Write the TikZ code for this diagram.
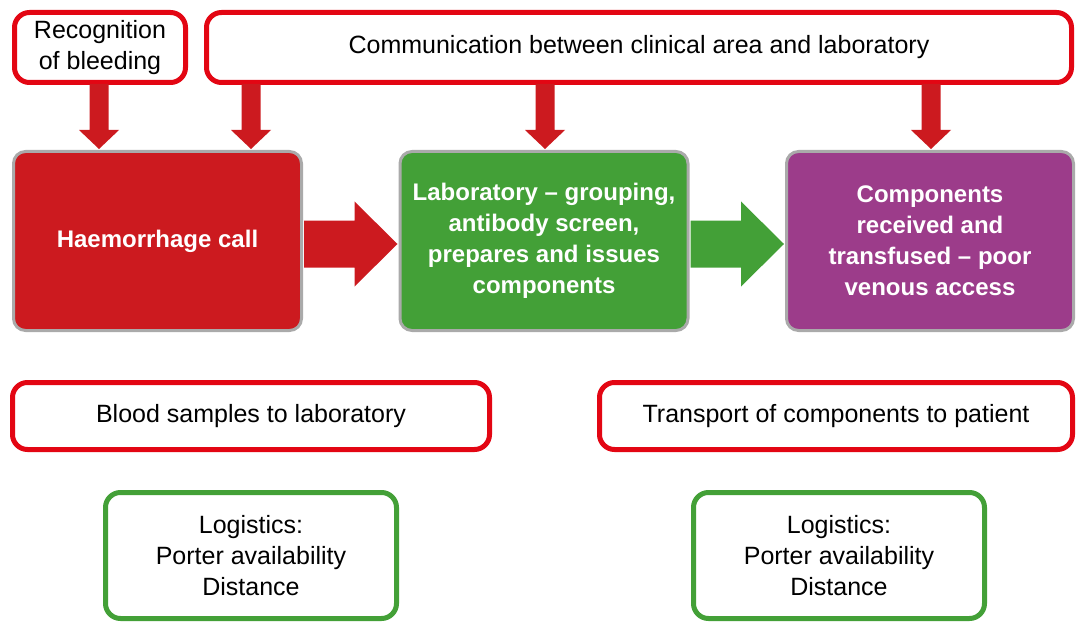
\documentclass[tikz,border=0pt]{standalone}
\usepackage{fontspec}
\setmainfont{Liberation Sans}
\usetikzlibrary{calc}
\definecolor{fillred}{HTML}{CC1A1F}
\definecolor{linered}{HTML}{E30613}
\definecolor{fillgreen}{HTML}{43A037}
\definecolor{fillpurple}{HTML}{9C3C8A}
\definecolor{boxgray}{HTML}{AAAAAA}
% vertical arrow: colour, from node, to node, x position (pt)
\newcommand\vArr[4]{%
  \fill[#1] let \p1=(#2.south), \p2=(#3.north) in
    ({#4pt-9.5pt},{\y1+1pt}) -- ({#4pt+9.5pt},{\y1+1pt}) -- ({#4pt+9.5pt},{\y2+20pt})
    -- ({#4pt+20pt},{\y2+20pt}) -- (#4pt,{\y2+1pt}) -- ({#4pt-20pt},{\y2+20pt})
    -- ({#4pt-9.5pt},{\y2+20pt}) -- cycle;}
% horizontal arrow: colour, from node, to node
\newcommand\hArr[3]{%
  \fill[#1] let \p1=(#2.east), \p2=(#3.west) in
    ({\x1+1pt},{\y1-3pt+23.5pt}) -- ({\x2-44pt},{\y1-3pt+23.5pt}) -- ({\x2-44pt},{\y1-3pt+42.5pt})
    -- ({\x2-1pt},{\y1-3pt}) -- ({\x2-44pt},{\y1-3pt-42.5pt}) -- ({\x2-44pt},{\y1-3pt-23.5pt})
    -- ({\x1+1pt},{\y1-3pt-23.5pt}) -- cycle;}
\begin{document}
\begin{tikzpicture}[x=1pt,y=-1pt,
  outlbox/.style={draw=#1, line width=5pt, rounded corners=15pt, fill=white,
    align=center, font=\fontsize{25}{31}\selectfont, inner sep=0pt},
  fillbox/.style={fill=#1, draw=boxgray, line width=3pt, rounded corners=12pt,
    text=white, align=center, font=\fontsize{24}{31}\selectfont\bfseries,
    minimum width=288pt, minimum height=179pt, inner sep=0pt}]
\useasboundingbox (0,0) rectangle (1077,623);

\node[outlbox=linered, minimum width=171pt, minimum height=70pt] (rec) at (100,47.5) {Recognition\\of bleeding};
\node[outlbox=linered, minimum width=865pt, minimum height=70pt] (comm) at (639,47.5) {Communication between clinical area and laboratory};

\node[fillbox=fillred] (haem) at (157.5,241) {Haemorrhage call};
\node[fillbox=fillgreen] (lab) at (544,241) {Laboratory -- grouping,\\antibody screen,\\prepares and issues\\components};
\node[fillbox=fillpurple, minimum width=287pt] (comp) at (930,241) {Components\\received and\\transfused -- poor\\venous access};

\node[outlbox=linered, minimum width=477pt, minimum height=67pt] (blood) at (251,416) {Blood samples to laboratory};
\node[outlbox=linered, minimum width=473pt, minimum height=67pt] (trans) at (836,416) {Transport of components to patient};

\node[outlbox=fillgreen, minimum width=291pt, minimum height=126pt] (log1) at (251,555.5) {Logistics:\\Porter availability\\Distance};
\node[outlbox=fillgreen, minimum width=291pt, minimum height=126pt] (log2) at (839,555.5) {Logistics:\\Porter availability\\Distance};

\vArr{fillred}{rec}{haem}{99}
\vArr{fillred}{comm}{haem}{251}
\vArr{fillred}{comm}{lab}{545}
\vArr{fillred}{comm}{comp}{931}

\hArr{fillred}{haem}{lab}
\hArr{fillgreen}{lab}{comp}
\end{tikzpicture}
\end{document}
